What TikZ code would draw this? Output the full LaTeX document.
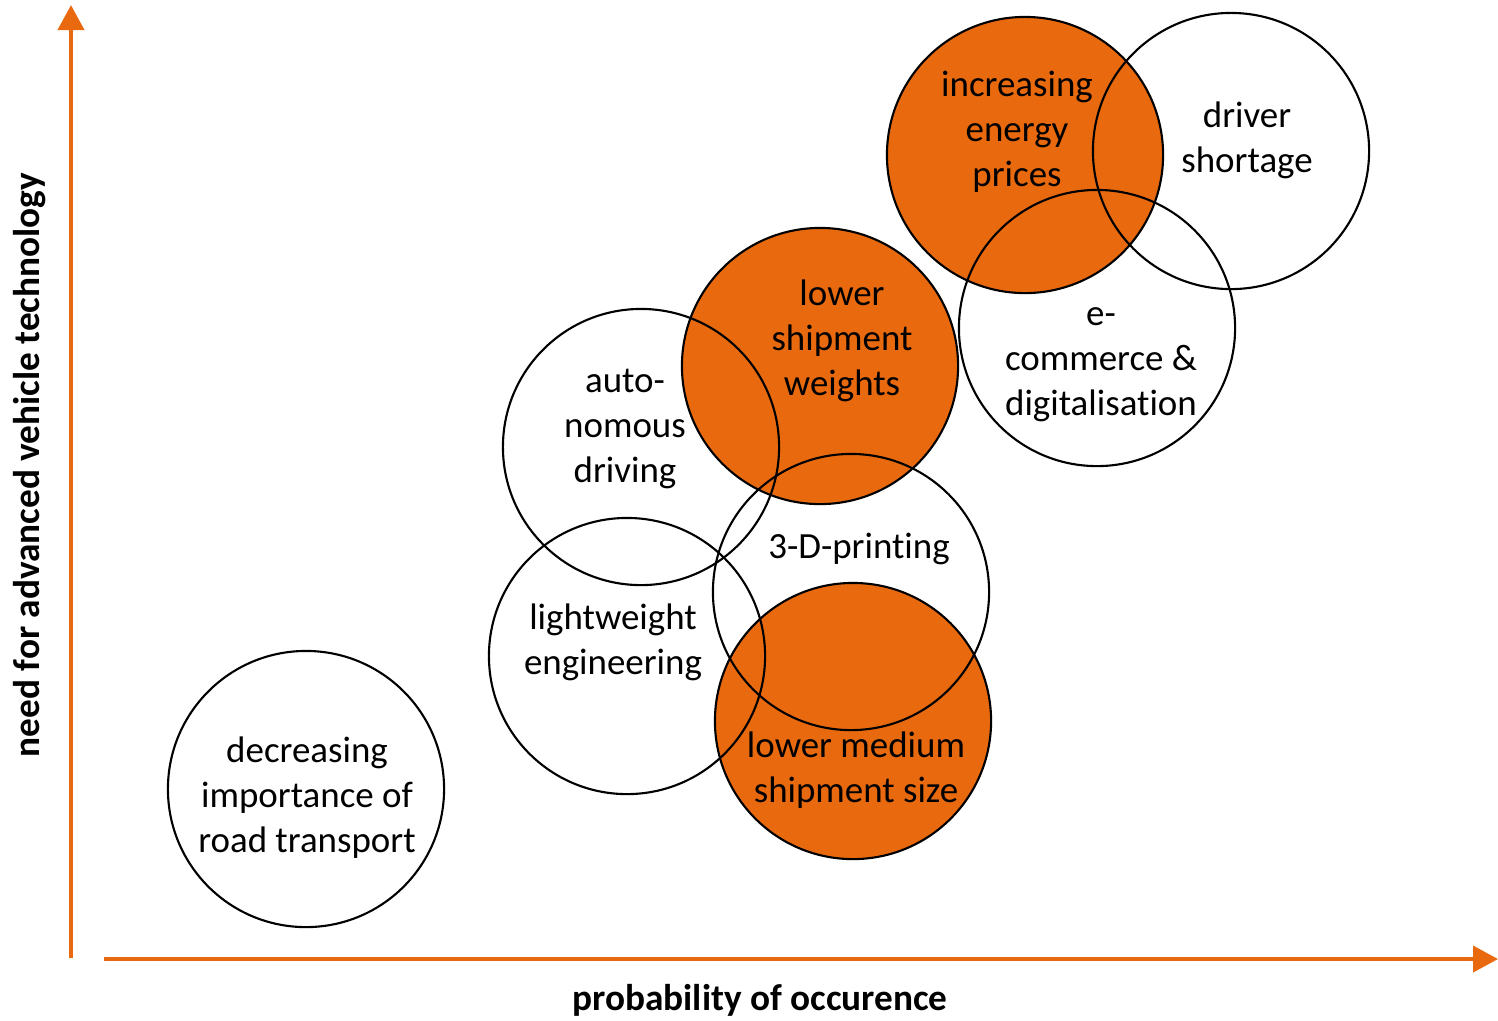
\documentclass[tikz,border=0pt]{standalone}
\usepackage{fontspec}
\setmainfont{Carlito}[Ligatures=NoCommon]
\usetikzlibrary{arrows.meta, positioning}
\definecolor{trendorange}{RGB}{233,106,14}

\begin{document}
\begin{tikzpicture}[x=0.01cm, y=-0.01cm,
	trend/.style = {circle, draw=black, line width=0.6pt, minimum size=2.76cm, inner sep=0pt},
	hot/.style = {trend, fill=trendorange},
	txt/.style = {align=center, font=\fontsize{10.5}{12.8}\selectfont},
	axis/.style = {trendorange, line width=1.1pt, -{Triangle[width=0.26cm, length=0.25cm]}},
	axislabel/.style = {font=\fontsize{10.6}{12}\selectfont\bfseries}]
	\useasboundingbox (0,0) rectangle (1498,1020);

	\coordinate (ytail) at (71,958);
	\coordinate (yhead) at (71,5);
	\coordinate (xtail) at (104,959);
	\coordinate (xhead) at (1498,959);
	\draw[axis] (ytail) -- (yhead);
	\draw[axis] (xtail) -- (xhead);
	\node[axislabel, rotate=90] (ylab) at (30,465) {need for advanced vehicle technology};
	\node[axislabel] (xlab) at (760,1000) {probability of occurence};

	\node[hot] (energy) at (1025,155) {};
	\node[hot] (weights) at (820,366) {};
	\node[hot] (size) at (853,721) {};
	\node[trend] (driver) at (1231,151) {};
	\node[trend] (commerce) at (1097,328) {};
	\node[trend] (autonomous) at (641,447) {};
	\node[trend] (printing) at (851,592) {};
	\node[trend] (lightweight) at (627,656) {};
	\node[trend] (road) at (306,789) {};

	\node[txt] (energytxt) at (1017,132) {increasing\\energy\\prices};
	\node[txt] (drivertxt) at (1247,140) {driver\\shortage};
	\node[txt] (commercetxt) at (1101,365) {e-\\commerce \&\\digitalisation};
	\node[txt] (weightstxt) at (842,341) {lower\\shipment\\weights};
	\node[txt] (autonomoustxt) at (625,429) {auto-\\nomous\\driving};
	\node[txt] (printingtxt) at (859,549) {3-D-printing};
	\node[txt] (lightweighttxt) at (613,642) {lightweight\\engineering};
	\node[txt] (sizetxt) at (856,770) {lower medium\\shipment size};
	\node[txt] (roadtxt) at (307,798) {decreasing\\importance of\\road transport};
\end{tikzpicture}
\end{document}
